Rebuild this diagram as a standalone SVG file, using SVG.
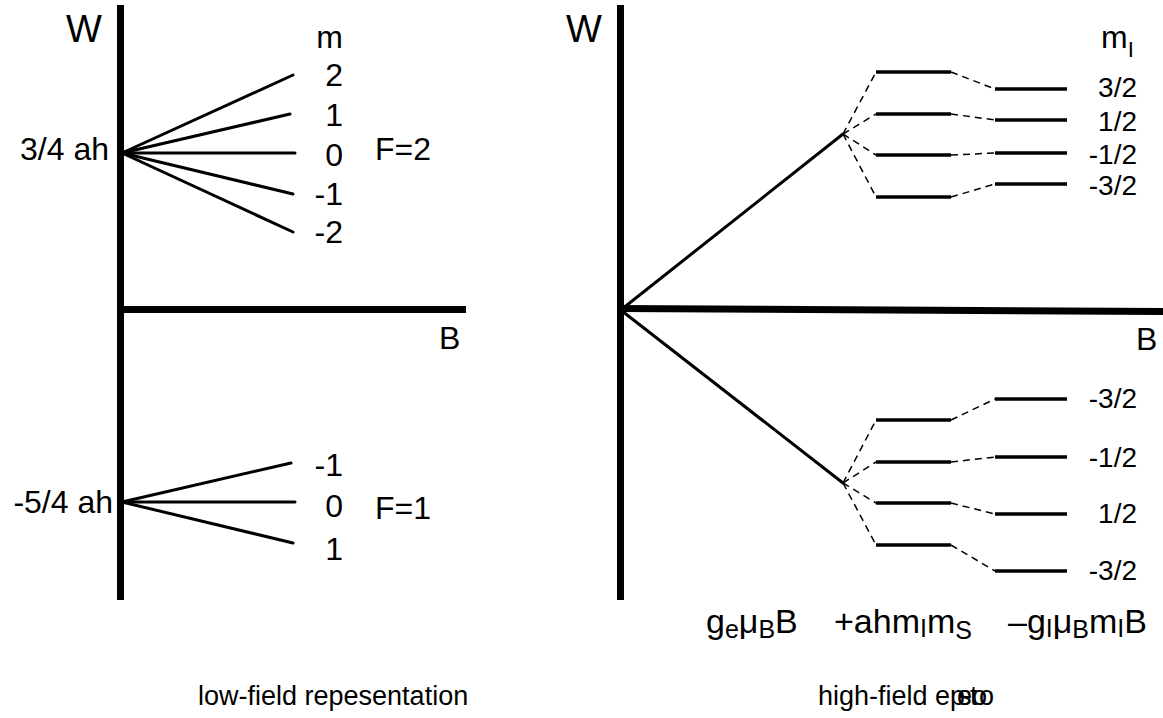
<svg xmlns="http://www.w3.org/2000/svg" width="1163" height="718" viewBox="0 0 1163 718">
<style>
text{font-family:"Liberation Sans",Arial,sans-serif;fill:#000}
.lbl{font-size:32px}
.rl{font-size:28px}
.big{font-size:38px}
.cap{font-size:27px}
.fx{font-size:34px}
.axis{stroke:#000;stroke-width:7;fill:none}
.fan{stroke:#000;stroke-width:3;fill:none;stroke-linecap:round}
.lvl{stroke:#000;stroke-width:3.5;fill:none}
.dash{stroke:#000;stroke-width:1.5;fill:none;stroke-dasharray:7,5}
.sub{font-size:25px}
.msub{font-size:22px}
</style>
<rect width="1163" height="718" fill="#fff"/>
<g id="connectors">
<line class="axis" x1="120.5" y1="5" x2="120.5" y2="600"/>
<line class="axis" x1="117" y1="309.5" x2="466" y2="309.5"/>
<line class="fan" x1="122" y1="153" x2="293" y2="75"/>
<line class="fan" x1="122" y1="153" x2="290" y2="114"/>
<line class="fan" x1="122" y1="153" x2="295" y2="153"/>
<line class="fan" x1="122" y1="153" x2="293" y2="194"/>
<line class="fan" x1="122" y1="153" x2="293" y2="232"/>
<line class="fan" x1="122" y1="502" x2="291" y2="463"/>
<line class="fan" x1="122" y1="502" x2="295" y2="502"/>
<line class="fan" x1="122" y1="502" x2="293" y2="543"/>
<line class="axis" x1="620.5" y1="5" x2="620.5" y2="600"/>
<line class="axis" x1="617" y1="308.5" x2="1163" y2="311.5"/>
<line class="fan" x1="622" y1="309" x2="843" y2="134"/>
<line class="fan" x1="622" y1="311" x2="843" y2="483"/>
<g>
<line class="dash" x1="843" y1="134" x2="876" y2="72"/>
<line class="dash" x1="843" y1="134" x2="876" y2="114"/>
<line class="dash" x1="843" y1="134" x2="876" y2="155"/>
<line class="dash" x1="843" y1="134" x2="876" y2="197"/>
<line class="dash" x1="951" y1="72" x2="995" y2="89"/>
<line class="dash" x1="951" y1="114" x2="995" y2="120"/>
<line class="dash" x1="951" y1="155" x2="995" y2="153"/>
<line class="dash" x1="951" y1="197" x2="995" y2="184"/>
<line class="dash" x1="843" y1="483" x2="876" y2="420"/>
<line class="dash" x1="843" y1="483" x2="876" y2="462"/>
<line class="dash" x1="843" y1="483" x2="876" y2="503"/>
<line class="dash" x1="843" y1="483" x2="876" y2="545"/>
<line class="dash" x1="951" y1="420" x2="995" y2="399"/>
<line class="dash" x1="951" y1="462" x2="995" y2="457"/>
<line class="dash" x1="951" y1="503" x2="995" y2="514"/>
<line class="dash" x1="951" y1="545" x2="995" y2="571"/>
</g>
</g>
<g id="levels-upper">
<line class="lvl" x1="876" y1="72" x2="951" y2="72"/>
<line class="lvl" x1="876" y1="114" x2="951" y2="114"/>
<line class="lvl" x1="876" y1="155" x2="951" y2="155"/>
<line class="lvl" x1="876" y1="197" x2="951" y2="197"/>
<line class="lvl" x1="995" y1="89" x2="1067" y2="89"/>
<line class="lvl" x1="995" y1="120" x2="1067" y2="120"/>
<line class="lvl" x1="995" y1="153" x2="1067" y2="153"/>
<line class="lvl" x1="995" y1="184" x2="1067" y2="184"/>
</g>
<g id="levels-lower">
<line class="lvl" x1="876" y1="420" x2="951" y2="420"/>
<line class="lvl" x1="876" y1="462" x2="951" y2="462"/>
<line class="lvl" x1="876" y1="503" x2="951" y2="503"/>
<line class="lvl" x1="876" y1="545" x2="951" y2="545"/>
<line class="lvl" x1="995" y1="399" x2="1067" y2="399"/>
<line class="lvl" x1="995" y1="457" x2="1067" y2="457"/>
<line class="lvl" x1="995" y1="514" x2="1067" y2="514"/>
<line class="lvl" x1="995" y1="571" x2="1067" y2="571"/>
</g>
<g id="left-labels">
<text class="big" x="66" y="42">W</text>
<text class="lbl" x="109" y="160" text-anchor="end">3/4 ah</text>
<text class="lbl" x="113" y="513" text-anchor="end">-5/4 ah</text>
<text class="lbl" x="343" y="48" text-anchor="end">m</text>
<text class="lbl" x="343" y="86" text-anchor="end">2</text>
<text class="lbl" x="343" y="126" text-anchor="end">1</text>
<text class="lbl" x="343" y="166" text-anchor="end">0</text>
<text class="lbl" x="343" y="205" text-anchor="end">-1</text>
<text class="lbl" x="343" y="243" text-anchor="end">-2</text>
<text class="lbl" x="375" y="160">F=2</text>
<text class="lbl" x="343" y="476" text-anchor="end">-1</text>
<text class="lbl" x="343" y="517" text-anchor="end">0</text>
<text class="lbl" x="343" y="560" text-anchor="end">1</text>
<text class="lbl" x="375" y="519">F=1</text>
<text class="lbl" x="439" y="349">B</text>
<text class="cap" x="198" y="705">low-field repesentation</text>
</g>
<g id="right-labels">
<text class="big" x="566" y="42">W</text>
<text class="lbl" x="1101" y="48">m<tspan class="msub" dy="9">I</tspan></text>
<text class="rl" x="1137" y="97" text-anchor="end">3/2</text>
<text class="rl" x="1137" y="131" text-anchor="end">1/2</text>
<text class="rl" x="1137" y="164" text-anchor="end">-1/2</text>
<text class="rl" x="1137" y="195" text-anchor="end">-3/2</text>
<text class="rl" x="1137" y="408" text-anchor="end">-3/2</text>
<text class="rl" x="1137" y="467" text-anchor="end">-1/2</text>
<text class="rl" x="1137" y="523" text-anchor="end">1/2</text>
<text class="rl" x="1137" y="580" text-anchor="end">-3/2</text>
<text class="lbl" x="1136" y="350">B</text>
<text class="fx" x="706" y="633">g<tspan class="sub" dy="5">e</tspan><tspan dy="-5">μ</tspan><tspan class="sub" dy="5">B</tspan><tspan dy="-5">B</tspan></text>
<text class="fx" x="834" y="633">+ahm<tspan class="sub" dy="4">I</tspan><tspan dy="-4">m</tspan><tspan class="sub" dy="6">S</tspan></text>
<text class="fx" x="1147" y="633" text-anchor="end">–g<tspan class="sub" dy="4">I</tspan><tspan dy="-4">μ</tspan><tspan class="sub" dy="5">B</tspan><tspan dy="-5">m</tspan><tspan class="sub" dy="4">I</tspan><tspan dy="-4">B</tspan></text>
<text class="cap" x="818" y="705">high-field ep<tspan x="957">e</tspan><tspan x="958">s</tspan><tspan x="970">t</tspan><tspan x="972">o</tspan><tspan x="979">o</tspan></text>
</g>
</svg>
